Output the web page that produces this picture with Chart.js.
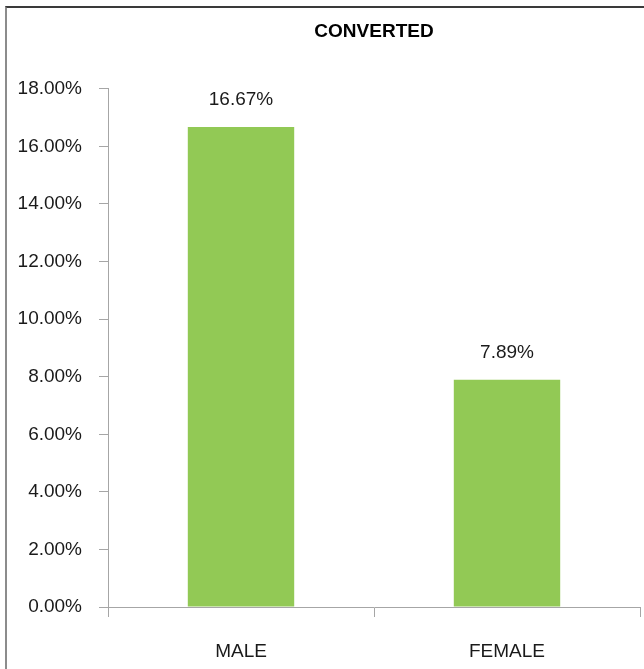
<!DOCTYPE html>
<html>
<head>
<meta charset="utf-8">
<script src="https://cdn.jsdelivr.net/npm/chart.js@4.4.0/dist/chart.umd.min.js"></script>
<style>
  html, body { margin: 0; padding: 0; background: #fff; }
  #wrap { position: relative; width: 644px; height: 669px; }
  #frame {
    position: absolute; left: 5px; top: 6px; right: 0; bottom: 0;
    border-left: 2px solid #8c8c8c; border-top: 2px solid #3a3a3a;
    pointer-events: none;
  }
</style>
</head>
<body>
<div id="wrap">
  <canvas id="chart" width="644" height="669"></canvas>
  <div id="frame"></div>
</div>
<script>
const categories = ["MALE", "FEMALE"];
const convertedPct = [16.67, 7.89];
const yMin = 0;
const yMax = 18;
const yStep = 2;

const font = "'Liberation Sans', Arial, sans-serif";

// writes the value above each bar
const valueLabels = {
  id: "valueLabels",
  afterDatasetsDraw(chart) {
    const ctx = chart.ctx;
    const meta = chart.getDatasetMeta(0);
    ctx.save();
    ctx.font = "19px " + font;
    ctx.fillStyle = "#1a1a1a";
    ctx.textAlign = "center";
    ctx.textBaseline = "middle";
    meta.data.forEach(function (bar, i) {
      ctx.fillText(convertedPct[i].toFixed(2) + "%", bar.x, bar.y - 27);
    });
    ctx.restore();
  },
};

new Chart(document.getElementById("chart").getContext("2d"), {
  type: "bar",
  data: {
    labels: categories,
    datasets: [
      {
        data: convertedPct,
        backgroundColor: "#92c955",
        barPercentage: 0.4,
        categoryPercentage: 1.0,
      },
    ],
  },
  options: {
    responsive: false,
    animation: false,
    layout: { padding: { left: 0, right: 4, top: 0, bottom: 0 } },
    plugins: {
      legend: { display: false },
      tooltip: { enabled: false },
      title: {
        display: true,
        fullSize: false,
        text: "CONVERTED",
        color: "#000",
        font: { family: font, size: 19, weight: "bold" },
        padding: { top: 20, bottom: 46 },
      },
    },
    scales: {
      x: {
        grid: { drawOnChartArea: false, tickLength: 10, color: "#a6a6a6" },
        border: { color: "#a6a6a6", width: 1 },
        ticks: { color: "#1a1a1a", font: { family: font, size: 19 }, padding: 23 },
        afterFit(scale) { scale.height = 62; },
      },
      y: {
        min: yMin,
        max: yMax,
        grid: { drawOnChartArea: false, tickLength: 9, color: "#a6a6a6" },
        border: { color: "#a6a6a6", width: 1 },
        ticks: {
          stepSize: yStep,
          color: "#1a1a1a",
          font: { family: font, size: 19 },
          padding: 17,
          callback: (v) => v.toFixed(2) + "%",
        },
        afterFit(scale) { scale.width = 108; },
      },
    },
  },
  plugins: [valueLabels],
});
</script>
</body>
</html>
